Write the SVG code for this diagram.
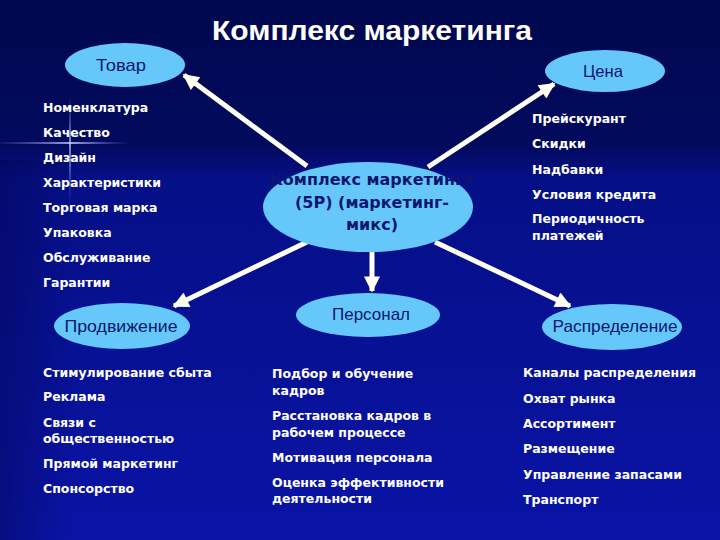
<svg xmlns="http://www.w3.org/2000/svg" width="720" height="540" viewBox="0 0 720 540">
<defs>
<linearGradient id="bg" x1="0" y1="0" x2="0" y2="1">
<stop offset="0" stop-color="#01084e"/>
<stop offset="0.27" stop-color="#020a5e"/>
<stop offset="0.33" stop-color="#050f86"/>
<stop offset="1" stop-color="#0a14a6"/>
</linearGradient>
<linearGradient id="left" x1="0" y1="0" x2="1" y2="0">
<stop offset="0" stop-color="#000040" stop-opacity="0.35"/>
<stop offset="1" stop-color="#000040" stop-opacity="0"/>
</linearGradient>
<linearGradient id="flh" x1="0" y1="0" x2="1" y2="0">
<stop offset="0" stop-color="#6f7cff" stop-opacity="0.1"/>
<stop offset="0.55" stop-color="#c8ceff" stop-opacity="0.8"/>
<stop offset="1" stop-color="#6f7cff" stop-opacity="0"/>
</linearGradient>
<linearGradient id="flv" x1="0" y1="0" x2="0" y2="1">
<stop offset="0" stop-color="#6f7cff" stop-opacity="0"/>
<stop offset="0.45" stop-color="#c8ceff" stop-opacity="0.7"/>
<stop offset="1" stop-color="#6f7cff" stop-opacity="0"/>
</linearGradient>
<marker id="ah" viewBox="0 0 10 10" refX="9" refY="5" markerWidth="3.6" markerHeight="3.2" orient="auto" markerUnits="strokeWidth">
<path d="M0,0 L10,5 L0,10 Z" fill="#fffff0"/>
</marker>
<style>
.el{fill:#66c8fa;}
.lbl{font-family:"Liberation Sans",Arial,sans-serif;font-size:17px;fill:#0b1670;text-anchor:middle;}
.li{font-family:"DejaVu Sans",Verdana,sans-serif;font-weight:bold;font-size:12.5px;fill:#ffffff;}
.ctr{font-family:"DejaVu Sans",Verdana,sans-serif;font-weight:bold;font-size:16px;fill:#0b1670;text-anchor:middle;}
.ar{stroke:#fffff0;stroke-width:5;fill:none;marker-end:url(#ah);}
</style>
</defs>
<rect width="720" height="540" fill="url(#bg)"/>
<rect x="0" y="160" width="75" height="380" fill="url(#left)"/>
<rect x="0" y="142" width="130" height="2" fill="url(#flh)"/>
<rect x="69" y="95" width="2" height="110" fill="url(#flv)"/>

<text x="372" y="40" font-family="'Liberation Sans',Arial,sans-serif" font-weight="bold" font-size="27" fill="#ffffff" text-anchor="middle" textLength="320" lengthAdjust="spacingAndGlyphs">Комплекс маркетинга</text>

<g id="connectors">
<line class="ar" x1="307" y1="166" x2="184" y2="75"/>
<line class="ar" x1="428" y1="167" x2="554" y2="84"/>
<line class="ar" x1="307" y1="242" x2="174" y2="306"/>
<line class="ar" x1="372" y1="252" x2="372" y2="291"/>
<line class="ar" x1="435" y1="242" x2="570" y2="306"/>
</g>

<g id="center">
<ellipse class="el" cx="368" cy="207" rx="105" ry="45"/>
<text class="ctr" x="372" y="185">Комплекс маркетинга</text>
<text class="ctr" x="372" y="208">(5Р) (маркетинг-</text>
<text class="ctr" x="372" y="230">микс)</text>
</g>

<g id="tovar">
<ellipse class="el" cx="125" cy="65" rx="60" ry="22"/>
<text class="lbl" x="121" y="71" textLength="50" lengthAdjust="spacingAndGlyphs">Товар</text>
</g>

<g id="cena">
<ellipse class="el" cx="605" cy="71" rx="60" ry="21"/>
<text class="lbl" x="603" y="77" textLength="40" lengthAdjust="spacingAndGlyphs">Цена</text>
</g>

<g id="prodvizhenie">
<ellipse class="el" cx="122" cy="326" rx="68" ry="23"/>
<text class="lbl" x="121" y="332" textLength="113" lengthAdjust="spacingAndGlyphs">Продвижение</text>
</g>

<g id="personal">
<ellipse class="el" cx="368" cy="315" rx="72" ry="22"/>
<text class="lbl" x="371" y="320" textLength="78" lengthAdjust="spacingAndGlyphs">Персонал</text>
</g>

<g id="raspredelenie">
<ellipse class="el" cx="612" cy="327" rx="70" ry="23"/>
<text class="lbl" x="615" y="332" textLength="125" lengthAdjust="spacingAndGlyphs">Распределение</text>
</g>

<g id="list-tovar">
<text class="li" x="43" y="112">Номенклатура</text>
<text class="li" x="43" y="137">Качество</text>
<text class="li" x="43" y="162">Дизайн</text>
<text class="li" x="43" y="187">Характеристики</text>
<text class="li" x="43" y="212">Торговая марка</text>
<text class="li" x="43" y="237">Упаковка</text>
<text class="li" x="43" y="262">Обслуживание</text>
<text class="li" x="43" y="287">Гарантии</text>
</g>

<g id="list-cena">
<text class="li" x="532" y="123">Прейскурант</text>
<text class="li" x="532" y="148">Скидки</text>
<text class="li" x="532" y="174">Надбавки</text>
<text class="li" x="532" y="199">Условия кредита</text>
<text class="li" x="532" y="223">Периодичность</text>
<text class="li" x="532" y="240">платежей</text>
</g>

<g id="list-prodvizhenie">
<text class="li" x="43" y="377">Стимулирование сбыта</text>
<text class="li" x="43" y="401">Реклама</text>
<text class="li" x="43" y="427">Связи с</text>
<text class="li" x="43" y="443">общественностью</text>
<text class="li" x="43" y="468">Прямой маркетинг</text>
<text class="li" x="43" y="493">Спонсорство</text>
</g>

<g id="list-personal">
<text class="li" x="272" y="378">Подбор и обучение</text>
<text class="li" x="272" y="395">кадров</text>
<text class="li" x="272" y="420">Расстановка кадров в</text>
<text class="li" x="272" y="437">рабочем процессе</text>
<text class="li" x="272" y="462">Мотивация персонала</text>
<text class="li" x="272" y="487">Оценка эффективности</text>
<text class="li" x="272" y="503">деятельности</text>
</g>

<g id="list-raspredelenie">
<text class="li" x="523" y="377">Каналы распределения</text>
<text class="li" x="523" y="403">Охват рынка</text>
<text class="li" x="523" y="428">Ассортимент</text>
<text class="li" x="523" y="453">Размещение</text>
<text class="li" x="523" y="479">Управление запасами</text>
<text class="li" x="523" y="504">Транспорт</text>
</g>
</svg>
